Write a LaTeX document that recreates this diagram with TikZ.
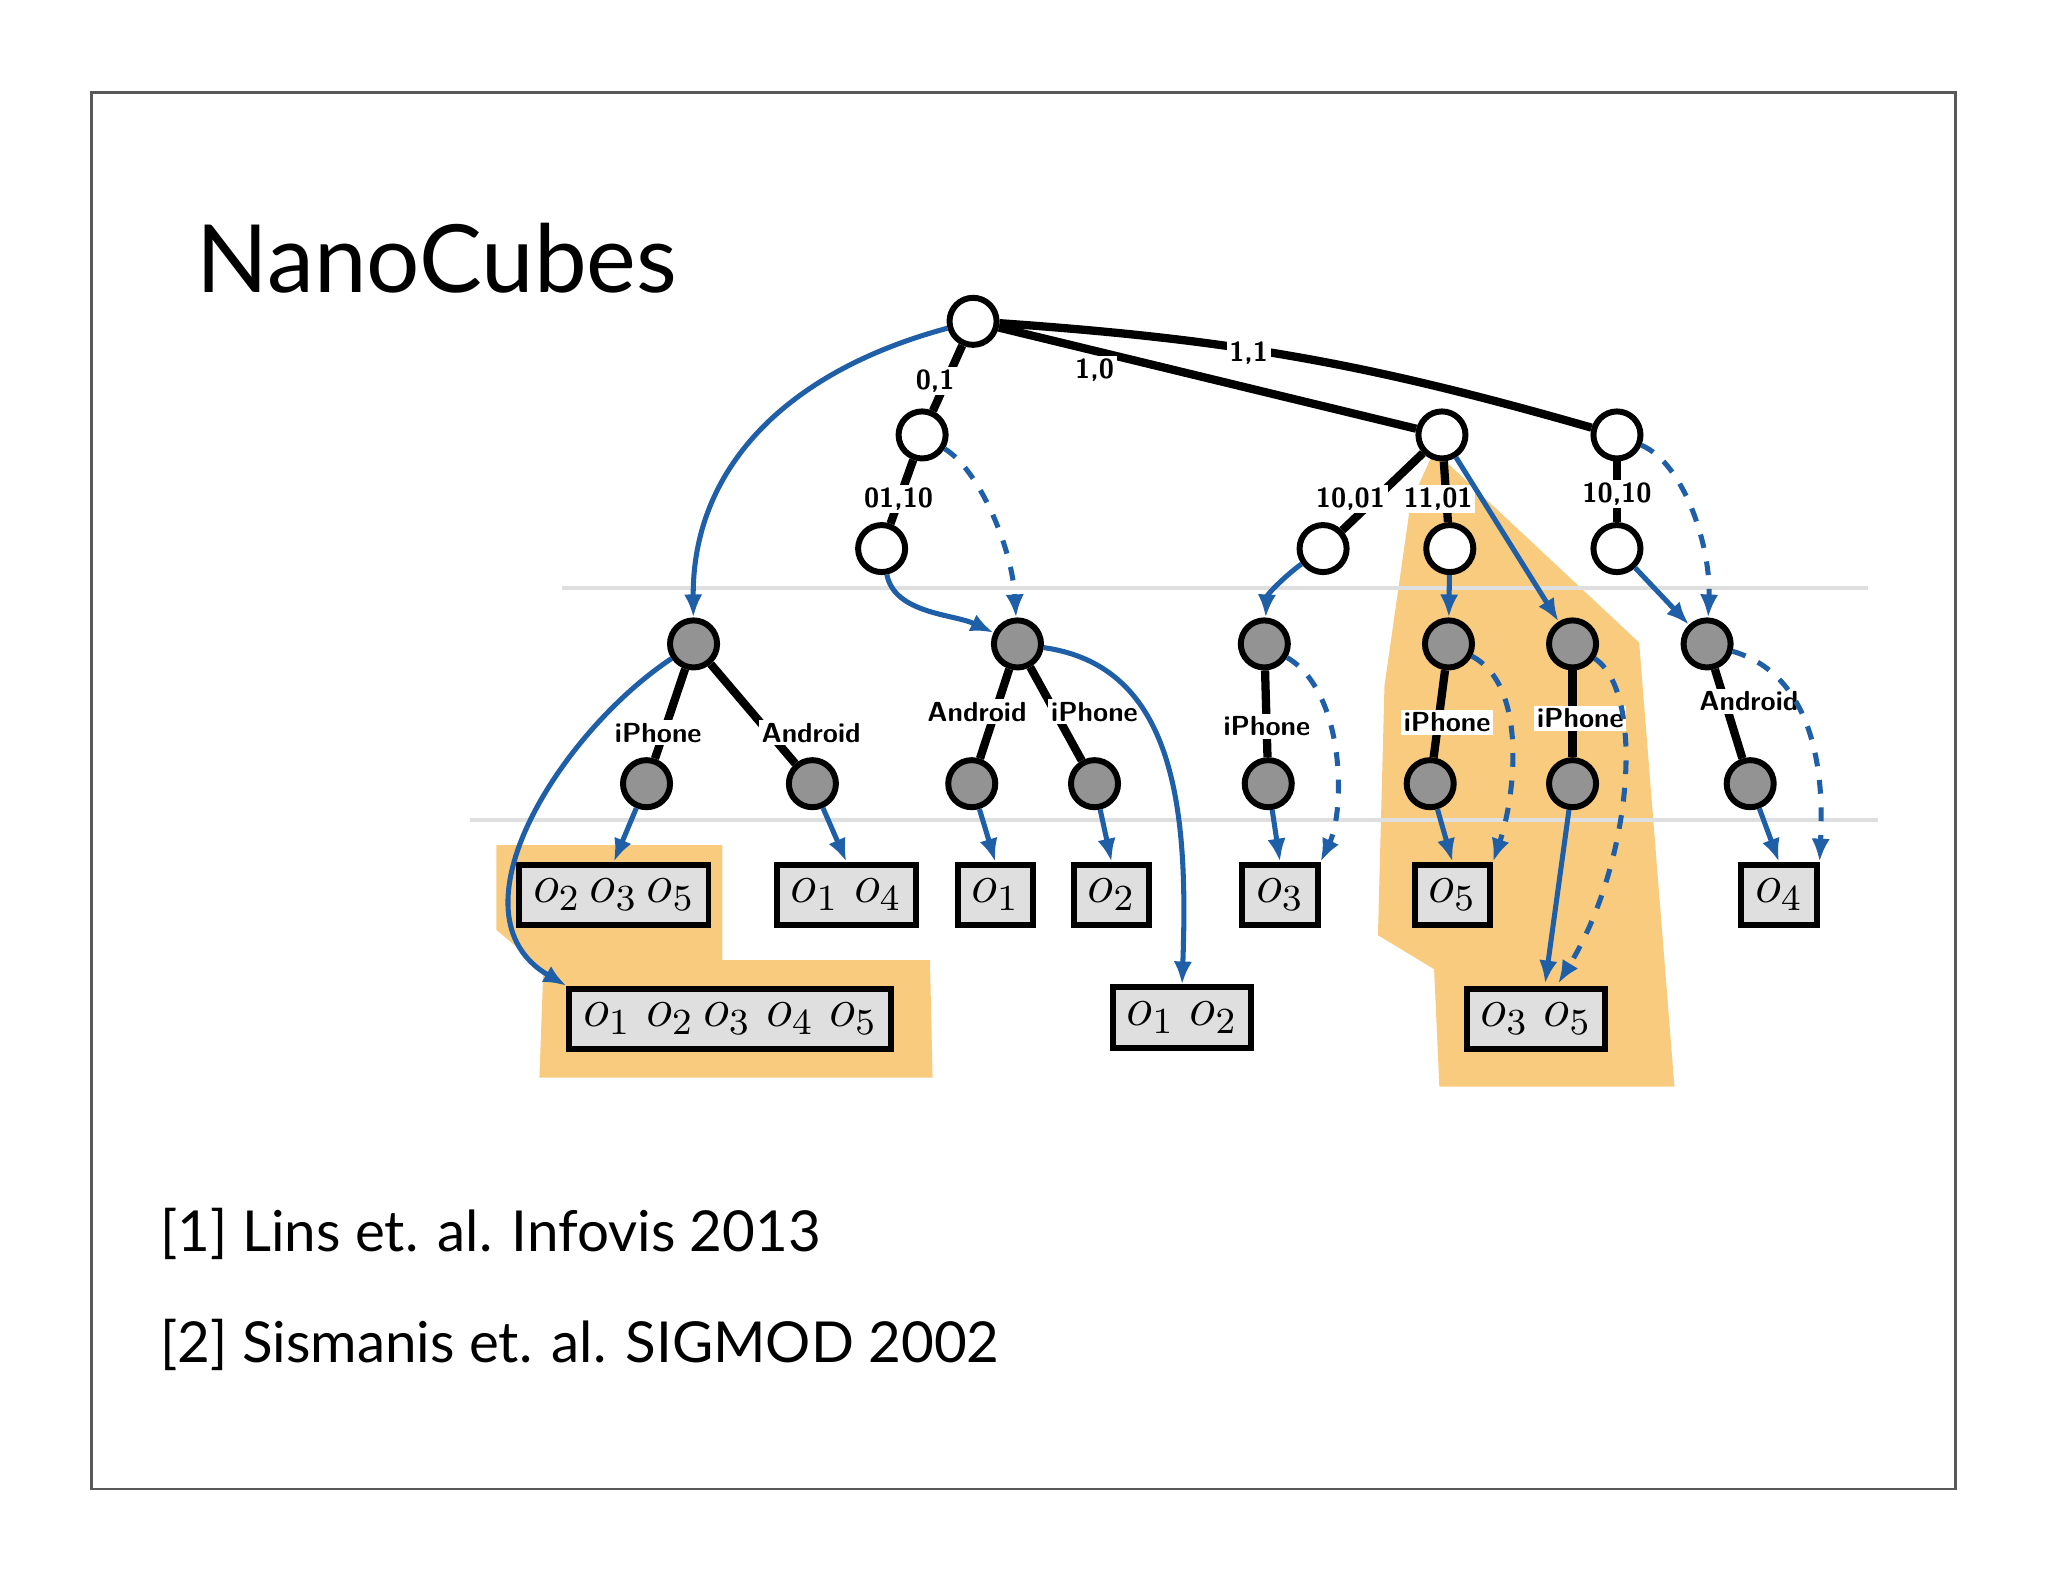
\documentclass[tikz,border=0pt]{standalone}
\usepackage{fontspec}
\setmainfont{Lato}
\usetikzlibrary{arrows.meta}
\definecolor{blu}{HTML}{1F5FA8}
\definecolor{org}{HTML}{F9CB7F}
\begin{document}
\begin{tikzpicture}[x=0.01cm,y=-0.01cm,
 wn/.style={circle,draw=black,line width=1.3pt,fill=white,minimum size=0.36cm,inner sep=0pt},
 gn/.style={circle,draw=black,line width=1.3pt,fill=gray!85,minimum size=0.36cm,inner sep=0pt},
 bx/.style={draw=black,line width=1.3pt,fill=gray!25,minimum height=0.46cm,inner sep=3pt,font=\fontsize{12}{14}\selectfont},
 e/.style={line width=1.8pt},
 lb/.style={fill=white,inner sep=0.6pt,font=\sffamily\bfseries\fontsize{6}{7}\selectfont},
 ar/.style={blu,line width=1.1pt,-{Latex[length=5pt,width=4pt]}},
 da/.style={ar,dashed}]
\useasboundingbox (0,0) rectangle (1568,1211);
\fill[white] (0,0) rectangle (1568,1211);
\draw[gray!70!black,line width=0.6pt] (70,71) rectangle (1497,1140);
\node[anchor=base west,inner sep=0pt,font=\fontsize{20.5}{24}\selectfont] at (150,224) {NanoCubes};
\node[anchor=base west,inner sep=0pt,font=\fontsize{12.3}{15}\selectfont] at (122,958) {[1] Lins et. al. Infovis 2013};
\node[anchor=base west,inner sep=0pt,font=\fontsize{12.3}{15}\selectfont] at (122,1043) {[2] Sismanis et. al. SIGMOD 2002};
% orange regions
\fill[org] (380,647)--(553,647)--(553,735)--(712,735)--(714,825)--(413,825)--(416,742)--(380,712)--cycle;
\fill[org] (1080,385)--(1098,345)--(1255,492)--(1282,832)--(1102,832)--(1098,742)--(1055,716)--(1060,525)--cycle;
\draw[gray!25,line width=0.8pt] (430,450)--(1430,450);
\draw[gray!25,line width=0.8pt] (360,628)--(1438,628);
% nodes
\node[wn] (r) at (745,246) {};
\node[wn] (a) at (706,333) {};
\node[wn] (a2) at (675,420) {};
\node[wn] (b) at (1104,333) {};
\node[wn] (c) at (1238,333) {};
\node[wn] (b1) at (1013,420) {};
\node[wn] (b2) at (1110,420) {};
\node[wn] (c1) at (1238,420) {};
\node[gn] (g1) at (531,493) {};
\node[gn] (g2) at (779,493) {};
\node[gn] (g3) at (968,493) {};
\node[gn] (g4) at (1109,493) {};
\node[gn] (g5) at (1204,493) {};
\node[gn] (g6) at (1307,493) {};
\node[gn] (h1) at (495,600) {};
\node[gn] (h2) at (622,600) {};
\node[gn] (h3) at (744,600) {};
\node[gn] (h4) at (838,600) {};
\node[gn] (h5) at (971,600) {};
\node[gn] (h6) at (1095,600) {};
\node[gn] (h7) at (1204,600) {};
\node[gn] (h8) at (1340,600) {};
\node[bx] (x1) at (470,685) {$o_2\,o_3\,o_5$};
\node[bx] (x2) at (648,685) {$o_1\;o_4$};
\node[bx] (x3) at (762,685) {$o_1$};
\node[bx] (x4) at (851,685) {$o_2$};
\node[bx] (x5) at (980,685) {$o_3$};
\node[bx] (x6) at (1112,685) {$o_5$};
\node[bx] (x7) at (1362,685) {$o_4$};
\node[bx] (x8) at (559,780) {$o_1\;o_2\,o_3\;o_4\;o_5$};
\node[bx] (x9) at (905,779) {$o_1\;o_2$};
\node[bx] (x10) at (1176,780) {$o_3\;o_5$};
% black edges
\draw[e] (r)--(a); \draw[e] (r)--(b); \draw[e] (r) to[bend left=6] (c);
\draw[e] (a)--(a2); \draw[e] (b)--(b1); \draw[e] (b)--(b2); \draw[e] (c)--(c1);
\draw[e] (g1)--(h1); \draw[e] (g1)--(h2); \draw[e] (g2)--(h3); \draw[e] (g2)--(h4);
\draw[e] (g3)--(h5); \draw[e] (g4)--(h6); \draw[e] (g5)--(h7); \draw[e] (g6)--(h8);
\node[lb] at (716,292) {0,1};
\node[lb] at (838,283) {1,0};
\node[lb] at (956,270) {1,1};
\node[lb] at (688,382) {01,10};
\node[lb] at (1034,382) {10,01};
\node[lb] at (1101,382) {11,01};
\node[lb] at (1238,378) {10,10};
\node[lb] at (504,561) {iPhone};
\node[lb] at (621,561) {Android};
\node[lb] at (748,545) {Android};
\node[lb] at (838,545) {iPhone};
\node[lb] at (970,556) {iPhone};
\node[lb] at (1108,553) {iPhone};
\node[lb] at (1210,550) {iPhone};
\node[lb] at (1339,537) {Android};
% blue arrows
\draw[ar] (r) .. controls (600,285) and (530,360) .. (g1);
\draw[ar] (a2) .. controls (685,470) and (730,470) .. (g2);
\draw[ar] (b1) .. controls (985,440) and (970,455) .. (g3);
\draw[ar] (b2)--(g4);
\draw[ar] (b)--(g5);
\draw[ar] (c1)--(g6);
\draw[ar] (h1)--(x1.north);
\draw[ar] (h2)--(x2.north);
\draw[ar] (h3)--(x3.north);
\draw[ar] (h4)--(x4.north);
\draw[ar] (h5)--(x5.north);
\draw[ar] (h6)--(x6.north);
\draw[ar] (h8)--(x7.north);
\draw[ar] (h7)--(1183,753);
\draw[ar] (g1) .. controls (430,560) and (340,700) .. (x8.north west);
\draw[ar] (g2) .. controls (900,510) and (910,620) .. (x9.north);
% dashed
\draw[da] (a) .. controls (750,360) and (775,420) .. (g2);
\draw[da] (c) .. controls (1290,355) and (1310,420) .. (g6);
\draw[da] (g3) .. controls (1030,530) and (1030,620) .. (x5.north east);
\draw[da] (g4) .. controls (1170,525) and (1160,610) .. (x6.north east);
\draw[da] (g5) .. controls (1260,530) and (1250,660) .. (1193,753);
\draw[da] (g6) .. controls (1400,520) and (1395,620) .. (x7.north east);
\end{tikzpicture}
\end{document}
